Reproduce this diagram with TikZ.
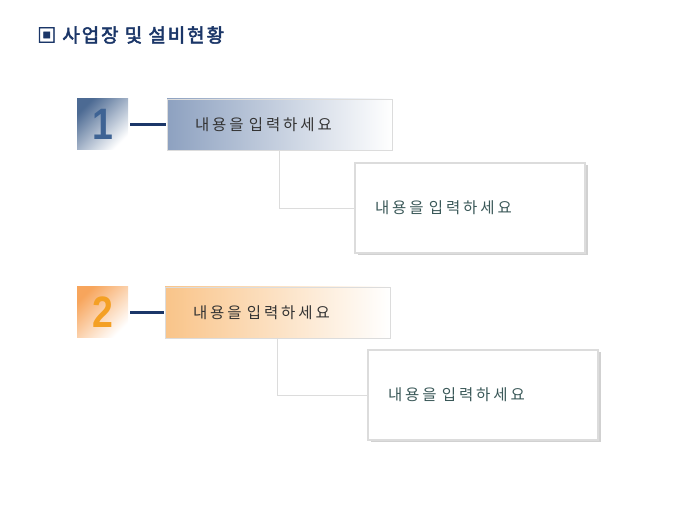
\documentclass[tikz,border=0pt]{standalone}
\usepackage{fontspec}
\usetikzlibrary{positioning,shadows}
\newfontfamily\krfont[LetterSpace=19]{Noto Sans CJK KR}
\newfontfamily\krtitle[FakeBold=2.5,LetterSpace=10]{Noto Sans CJK KR}
\setsansfont{Liberation Sans}
\definecolor{navy}{HTML}{1B3668}
\definecolor{slate}{HTML}{4C6A93}
\definecolor{slatelight}{HTML}{8DA1C0}
\definecolor{numblue}{HTML}{3E6394}
\definecolor{peach}{HTML}{F7A55C}
\definecolor{peachlight}{HTML}{F9C489}
\definecolor{numorange}{HTML}{F4A024}
\definecolor{boxline}{HTML}{DCDCDC}
\definecolor{textgray}{HTML}{333333}
\definecolor{textteal}{HTML}{3A5858}

\begin{document}
\begin{tikzpicture}[x=1pt, y=1pt,
  numbox/.style={minimum width=51pt, minimum height=51pt, inner sep=0pt, outer sep=0pt,
    font=\sffamily\bfseries\fontsize{44}{44}\selectfont},
  hdrbox/.style={draw=boxline, line width=0.5pt, minimum height=51pt, inner xsep=28pt, inner ysep=0pt,
    text width=169pt, align=left, outer sep=0pt, text=textgray, font=\krfont\fontsize{15.5}{17}\selectfont},
  detbox/.style={draw=boxline, line width=2pt, fill=white, minimum height=90pt, inner xsep=20pt, inner ysep=0pt,
    text width=190pt, align=left, outer sep=0pt, text=textteal, font=\krfont\fontsize{15.5}{17}\selectfont,
    drop shadow={shadow xshift=2.5pt, shadow yshift=-2.5pt, fill=black!18, opacity=1}},
  tie/.style={draw=navy, line width=2.1pt, shorten <=2pt, shorten >=1pt},
  link/.style={draw=boxline, line width=0.8pt}]

  \useasboundingbox (0,0) rectangle (680,510);

  % title
  \node[anchor=west, text=navy, font=\krtitle\fontsize{19}{21}\selectfont, inner sep=0pt] (title) at (37,475) {▣ 사업장 및 설비현황};

  % first group
  \node[numbox, left color=slate, right color=white, shading angle=45, text=numblue] (num1) at (102.5,385.5) {\scalebox{0.85}[1]{1}};
  \node[hdrbox, right=39pt of num1, left color=slatelight, right color=white] (hdr1) {내용을 입력하세요};
  \node[detbox, below right=13pt and -37pt of hdr1] (det1) {내용을 입력하세요};

  \draw[tie] (num1) -- (hdr1);
  \draw[link] (hdr1.south) |- (det1.west);

  % second group
  \node[numbox, below=137pt of num1, left color=peach, right color=white, shading angle=45, text=numorange] (num2) {\scalebox{0.85}[1]{2}};
  \node[hdrbox, right=37pt of num2, left color=peachlight, right color=white] (hdr2) {내용을 입력하세요};
  \node[detbox, below right=12pt and -22pt of hdr2] (det2) {내용을 입력하세요};

  \draw[tie] (num2) -- (hdr2);
  \draw[link] (hdr2.south) |- (det2.west);

\end{tikzpicture}
\end{document}
